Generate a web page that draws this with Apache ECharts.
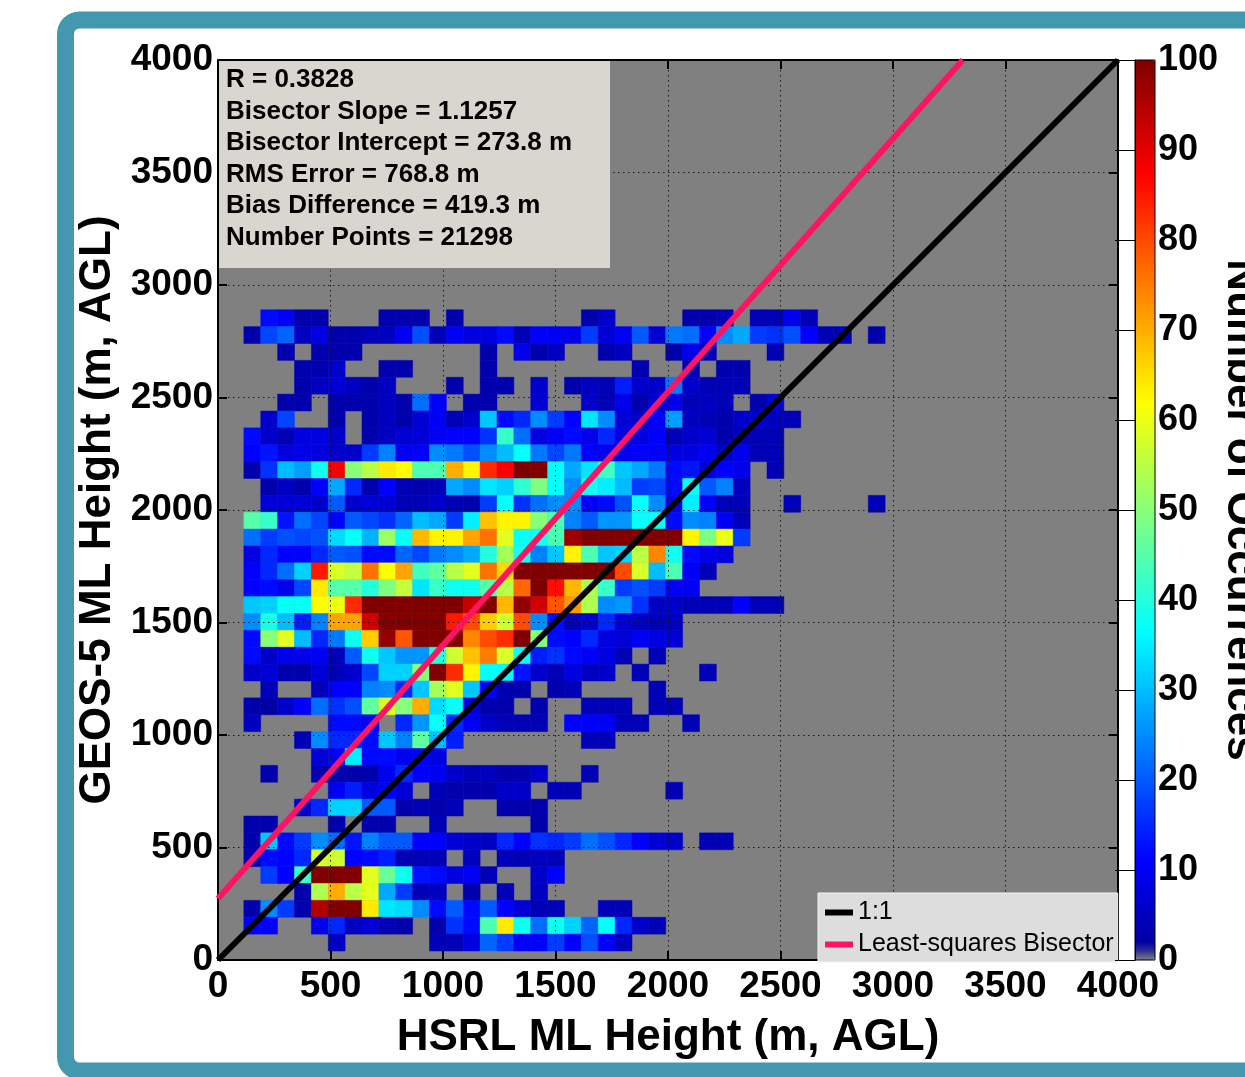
<!DOCTYPE html>
<html><head><meta charset="utf-8">
<script src="https://cdn.jsdelivr.net/npm/echarts@6/dist/echarts.min.js"></script>
<style>html,body{margin:0;padding:0;background:#fff}#c{width:1245px;height:1077px}</style>
</head><body><div id="c"></div>
<script>
// ---------------- DATA ----------------
const axisTicks = [0, 500, 1000, 1500, 2000, 2500, 3000, 3500, 4000];
const colorbarTicks = [0, 10, 20, 30, 40, 50, 60, 70, 80, 90, 100];
const xBinStart = 115;   // m, left edge of first HSRL bin
const yBinStart = 40;    // m, bottom edge of first GEOS-5 bin
const binWidth = 75;     // m
// number of occurrences; rows listed from top (highest GEOS-5 bin) to bottom; columns = HSRL bins
const occurrenceRowsTopDown = [
 [0,12,10,3,3,0,0,0,3,3,3,0,3,0,0,0,0,0,0,0,3,6,0,0,0,0,3,3,4,0,4,4,9,4],
 [3,18,21,5,8,3,3,4,5,10,19,4,10,8,8,12,4,11,10,9,17,7,10,20,7,23,22,11,25,28,17,16,19,11,4,4,0,3],
 [0,0,3,0,3,3,3,0,0,0,0,0,0,0,3,0,9,3,5,0,0,3,5,0,0,3,9,4,0,0,0,4],
 [0,0,0,3,3,6,0,0,3,3,0,0,0,0,3,0,0,0,0,0,0,0,0,3,0,0,4,0,3,3],
 [0,0,0,3,5,7,5,3,5,0,0,0,3,0,3,3,0,6,0,3,5,4,14,6,6,23,6,4,4,4],
 [0,0,3,3,0,3,3,3,5,3,22,11,0,3,3,0,0,7,0,0,6,4,9,3,7,9,4,5,4,0,3,8],
 [0,6,18,0,0,3,0,3,5,3,7,10,4,6,31,12,15,25,17,11,34,25,7,6,11,27,5,4,3,6,6,5,4],
 [12,6,4,8,8,6,0,3,5,7,7,10,11,11,16,42,22,8,10,12,9,15,8,8,11,4,6,7,3,4,4,4],
 [11,13,8,9,8,6,6,17,24,10,11,25,23,19,25,30,37,23,18,23,11,10,9,11,11,8,8,10,6,9,4,4],
 [3,16,30,27,38,88,50,55,64,62,44,44,70,63,83,88,100,100,37,28,34,43,31,28,23,12,13,7,11,9,0,4],
 [0,3,5,3,11,28,15,3,11,4,3,4,28,25,34,32,41,49,37,25,38,35,30,17,18,12,37,20,24,5],
 [0,7,7,7,6,20,6,7,7,4,4,6,4,3,17,37,16,22,25,25,11,12,19,37,25,11,35,11,4,4,0,0,4,0,0,0,0,4],
 [45,42,13,22,18,11,20,18,16,21,30,28,17,35,68,63,63,50,44,24,20,26,26,37,37,12,25,24,10,4],
 [22,17,19,18,19,33,37,29,52,37,69,63,63,71,76,59,37,38,44,97,100,100,100,100,100,100,63,49,60,17],
 [8,15,11,11,15,20,19,12,12,21,18,23,25,28,40,53,38,24,31,63,44,31,32,55,74,38,12,9,8],
 [11,15,22,32,85,58,56,76,62,71,43,46,55,59,76,66,100,100,100,100,100,100,80,58,30,44,10,4],
 [11,12,9,18,64,45,45,40,49,56,34,42,38,38,45,55,77,100,86,69,54,42,17,19,17,10,10],
 [31,32,37,37,62,60,83,100,100,100,100,100,100,93,100,69,98,92,79,72,54,25,26,16,5,6,4,4,4,11,4,4],
 [25,39,30,14,24,71,71,92,100,100,100,100,85,80,67,57,80,25,12,4,6,15,7,5,4,5],
 [12,50,59,30,15,23,38,67,98,79,100,100,100,74,80,83,100,50,12,11,15,8,7,10,8,7],
 [12,6,9,9,10,4,20,38,31,26,26,40,57,68,75,58,37,14,16,12,10,8,4,0,4],
 [6,7,3,3,7,4,6,18,32,32,50,100,83,63,37,36,13,6,4,8,5,6,0,4,0,0,0,4],
 [0,4,0,0,4,11,11,24,25,15,31,53,59,31,11,3,3,0,3,4,0,0,0,0,4],
 [3,2,6,11,22,16,19,46,58,50,70,33,37,8,3,3,0,3,0,0,4,4,4,0,4,4],
 [5,0,0,0,0,12,12,11,0,15,26,37,15,10,6,4,4,4,0,11,11,10,4,4,0,0,4],
 [0,0,0,4,25,15,15,12,31,24,46,30,14,0,0,0,0,0,0,0,4,4],
 [0,0,0,0,7,11,35,12,12,10,10,8],
 [0,3,0,0,3,3,3,3,10,15,11,10,6,4,5,3,3,6,0,0,4],
 [0,0,0,0,0,10,14,8,11,7,0,4,3,3,3,6,6,0,4,4,0,0,0,0,0,4],
 [0,0,0,6,15,32,32,20,20,3,4,3,4,0,0,3,3,3],
 [3,3,0,0,0,3,0,3,3,0,0,4,0,0,0,0,0,3],
 [3,31,12,17,25,22,13,24,20,20,11,11,7,6,5,15,11,16,15,17,22,19,15,11,7,6,0,4,4],
 [3,12,11,15,58,57,11,12,14,4,4,4,0,5,0,4,4,5,4],
 [0,17,11,42,100,100,100,59,47,38,13,12,8,10,4,0,0,6,11],
 [0,0,0,3,54,70,55,59,28,17,4,5,0,3,0,4,0,5],
 [3,25,17,3,95,100,100,64,34,33,25,12,20,12,20,11,7,4,4,0,0,4,4],
 [11,11,0,0,9,15,5,7,4,3,0,3,16,12,44,64,38,22,38,32,21,37,15,6,4],
 [0,0,0,0,0,5,0,0,0,0,0,4,4,8,21,17,10,11,17,11,19,10,5]
];
const statLabels = ['R', 'Bisector Slope', 'Bisector Intercept', 'RMS Error', 'Bias Difference', 'Number Points'];
const statValues = ['0.3828', '1.1257', '273.8 m', '768.8 m', '419.3 m', '21298'];
const legendNames = ['1:1', 'Least-squares Bisector'];
const xAxisTitle = 'HSRL ML Height (m, AGL)';
const yAxisTitle = 'GEOS-5 ML Height (m, AGL)';
const colorbarTitle = 'Number of Occurrences';

// ---------------- BUILD ----------------
const bisectorSlope = parseFloat(statValues[1]);
const bisectorIntercept = parseFloat(statValues[2]);
const axisMax = axisTicks[axisTicks.length - 1];

const cells = [];
const nRows = occurrenceRowsTopDown.length;
occurrenceRowsTopDown.forEach((row, ti) => {
  const r = nRows - 1 - ti;
  row.forEach((v, c) => {
    if (v > 0) cells.push([xBinStart + c * binWidth, yBinStart + r * binWidth, v]);
  });
});

// MATLAB-style jet(64), lowest entry replaced with grey (zero occurrences)
const jetColors = (function () {
  const m = 64, n = 16, u = [];
  for (let i = 1; i <= n; i++) u.push(i / n);
  for (let i = 0; i < n - 1; i++) u.push(1);
  for (let i = n; i >= 1; i--) u.push(i / n);
  const g0 = Math.ceil(n / 2) - ((m % 4) === 1 ? 1 : 0);
  const c = [];
  for (let i = 0; i < m; i++) c.push([0, 0, 0]);
  for (let k = 0; k < u.length; k++) {
    const gi = g0 + k + 1, ri = gi + n, bi = gi - n;
    if (gi >= 1 && gi <= m) c[gi - 1][1] = u[k];
    if (ri >= 1 && ri <= m) c[ri - 1][0] = u[k];
    if (bi >= 1 && bi <= m) c[bi - 1][2] = u[k];
  }
  c[0] = [0.5, 0.5, 0.5];
  return c.map(a => 'rgb(' + a.map(v => Math.round(v * 255)).join(',') + ')');
})();

const FONT = '"Liberation Sans", Arial, Helvetica, sans-serif';
const plainNum = v => String(v);
const tickFont = { fontSize: 37, fontWeight: 'bold', color: '#000', fontFamily: FONT, formatter: plainNum };
const nameFont = { fontSize: 44, fontWeight: 'bold', color: '#000', fontFamily: FONT };
const gridLine = { show: true, lineStyle: { color: '#1a1a1a', width: 1, type: [1.5, 3.5] } };

function mainAxis(pos, withLabels, extra) {
  return Object.assign({
    gridIndex: 0, type: 'value', min: axisTicks[0], max: axisMax, interval: axisTicks[1] - axisTicks[0],
    position: pos, z: 3,
    axisLine: { show: true, onZero: false, lineStyle: { color: '#000', width: 2 } },
    axisTick: { show: true, inside: true, length: 9, lineStyle: { color: '#000', width: 2 } },
    axisLabel: withLabels ? Object.assign({ margin: 8 }, tickFont) : { show: false },
    splitLine: withLabels ? gridLine : { show: false }
  }, extra || {});
}

function renderCell(params, api) {
  const x0 = api.value(0), y0 = api.value(1);
  const a = api.coord([x0, y0 + binWidth]);
  const b = api.coord([x0 + binWidth, y0]);
  const col = api.visual('color');
  return { type: 'rect', shape: { x: a[0], y: a[1], width: b[0] - a[0], height: b[1] - a[1] },
           style: { fill: col, stroke: col, lineWidth: 0.5 } };
}

const statText = statLabels.map((l, i) => l + ' = ' + statValues[i]).join('\n');

const option = {
  animation: false,
  backgroundColor: '#ffffff',
  grid: [
    { left: 218, right: 127, top: 60, bottom: 117, show: true, backgroundColor: '#808080', borderWidth: 0 },
    { left: 1135, width: 20, top: 60, height: 900 }
  ],
  xAxis: [
    mainAxis('bottom', true, { name: xAxisTitle, nameLocation: 'middle', nameGap: 56, nameTextStyle: nameFont }),
    mainAxis('top', false),
    { gridIndex: 1, type: 'value', min: 0, max: 1, show: false }
  ],
  yAxis: [
    mainAxis('left', true, { name: yAxisTitle, nameLocation: 'middle', nameGap: 82, nameRotate: 90, nameTextStyle: nameFont,
      axisLabel: Object.assign({ margin: 5 }, tickFont) }),
    mainAxis('right', false),
    { gridIndex: 1, type: 'value', min: colorbarTicks[0], max: colorbarTicks[colorbarTicks.length - 1],
      interval: colorbarTicks[1] - colorbarTicks[0], position: 'right', z: 10,
      axisLine: { show: true, lineStyle: { color: '#000', width: 1 } },
      axisTick: { show: true, inside: true, length: 20, lineStyle: { color: '#000', width: 1 } },
      axisLabel: { margin: 3, fontSize: 36, fontWeight: 'bold', color: '#000', fontFamily: FONT },
      splitLine: { show: false } }
  ],
  visualMap: {
    type: 'continuous', min: colorbarTicks[0], max: colorbarTicks[colorbarTicks.length - 1],
    seriesIndex: 0, dimension: 2, calculable: false, orient: 'vertical',
    left: 1135, top: 60, itemWidth: 20, itemHeight: 900, padding: 0,
    showLabel: false, hoverLink: false,
    inRange: { color: jetColors }
  },
  legend: {
    data: legendNames, orient: 'vertical', left: 818, top: 893,
    icon: 'rect', itemWidth: 28, itemHeight: 6, itemGap: 7,
    padding: [7, 4, 5, 7], backgroundColor: '#dddddd', borderColor: '#f4f4f4', borderWidth: 1,
    selectedMode: false,
    textStyle: { fontSize: 25, color: '#000', fontFamily: FONT }
  },
  series: [
    { type: 'custom', name: 'occurrences', xAxisIndex: 0, yAxisIndex: 0, z: 2, silent: true,
      renderItem: renderCell, encode: { x: 0, y: 1 }, data: cells },
    { type: 'line', name: legendNames[0], xAxisIndex: 0, yAxisIndex: 0, z: 5, silent: true,
      symbol: 'none', color: '#000', lineStyle: { color: '#000', width: 6 },
      data: [[axisTicks[0], axisTicks[0]], [axisMax, axisMax]] },
    { type: 'line', name: legendNames[1], xAxisIndex: 0, yAxisIndex: 0, z: 6, silent: true,
      symbol: 'none', color: '#ff1464', lineStyle: { color: '#ff1464', width: 6 },
      data: [[0, bisectorIntercept], [(axisMax - bisectorIntercept) / bisectorSlope, axisMax]] }
  ],
  graphic: [
    { type: 'rect', z: -5, shape: { x: 65.5, y: 20, width: 1300, height: 1051, r: 14 },
      style: { fill: 'none', stroke: '#4398b0', lineWidth: 17 } },
    { type: 'rect', z: 100, shape: { x: 1135, y: 60, width: 20, height: 900 },
      style: { fill: 'none', stroke: '#000', lineWidth: 1 } },
    { type: 'rect', z: 100, shape: { x: 219, y: 61, width: 391, height: 207 }, style: { fill: '#d9d5cf' } },
    { type: 'text', z: 101, x: 226, y: 64,
      style: { text: statText, font: 'bold 26px ' + FONT, lineHeight: 31.6, fill: '#000' } },
    { type: 'text', z: 101, x: 1240, y: 510, rotation: -Math.PI / 2,
      style: { text: colorbarTitle, font: 'bold 44px ' + FONT, align: 'center', verticalAlign: 'middle', fill: '#000' } }
  ]
};

const chart = echarts.init(document.getElementById('c'), null, { renderer: 'canvas' });
chart.setOption(option);
</script></body></html>
